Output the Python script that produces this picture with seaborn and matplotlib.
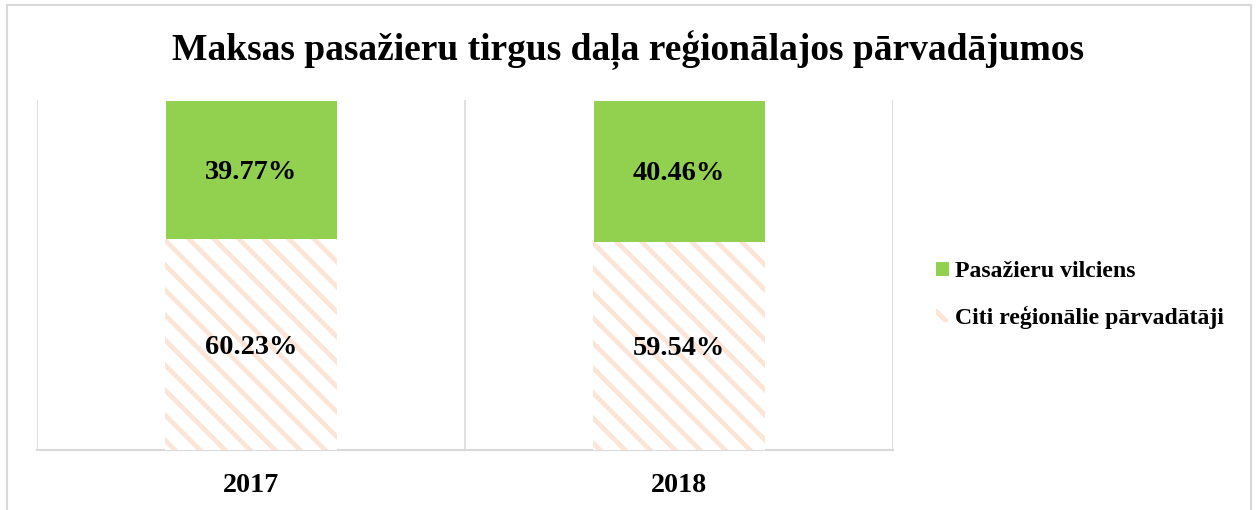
import matplotlib
matplotlib.use("Agg")
import matplotlib.pyplot as plt
import seaborn as sns
import pandas as pd
from matplotlib.patches import Patch
from matplotlib.lines import Line2D

years = ["2017", "2018"]
vilciens = [39.77, 40.46]
citi = [60.23, 59.54]
series_names = ["Pasažieru vilciens", "Citi reģionālie pārvadātāji"]
title = "Maksas pasažieru tirgus daļa reģionālajos pārvadājumos"

green = "#92D050"
peach = "#FCE4D6"
grid_c = "#D9D9D9"

DPI = 75
sns.set_style("white")
plt.rcParams["font.family"] = ["Liberation Serif", "DejaVu Serif"]
plt.rcParams["font.weight"] = "bold"
plt.rcParams["text.color"] = "black"
plt.rcParams["xtick.color"] = "black"
plt.rcParams["xtick.labelcolor"] = "black"
plt.rcParams["hatch.linewidth"] = 4.5

df = pd.DataFrame({"year": years, "vilciens": vilciens, "citi": citi})
df["total"] = df["vilciens"] + df["citi"]

fig = plt.figure(figsize=(1256 / DPI, 510 / DPI), dpi=DPI)
ax = fig.add_axes([37 / 1256, 1 - 450 / 510, (893 - 37) / 1256, 350 / 510])

# top part drawn as full stack, bottom part over it
sns.barplot(data=df, x="year", y="total", color=green, width=0.4,
            saturation=1, ax=ax, zorder=2)
sns.barplot(data=df, x="year", y="citi", color="white", width=0.4,
            saturation=1, ax=ax, zorder=3)
for p in ax.patches[len(years):]:
    p.set_facecolor("white")
    p.set_edgecolor(peach)
    p.set_linewidth(0)
    p.set_hatch("\\")

ax.set_xlim(-0.5, 1.5)
ax.set_ylim(0, 100)
ax.set_yticks([])
ax.set_xlabel("")
ax.set_ylabel("")
for x in [-0.5, 0.5, 1.5]:
    ax.axvline(x, color=grid_c, lw=1.5, zorder=1)
for s in ["top", "right", "left"]:
    ax.spines[s].set_visible(False)
ax.spines["bottom"].set_color(grid_c)
ax.spines["bottom"].set_linewidth(2)
ax.tick_params(axis="x", length=0, pad=22, labelsize=27, labelcolor="black")
for t in ax.get_xticklabels():
    t.set_fontweight("bold")

for i in range(len(years)):
    ax.text(i, citi[i] / 2, f"{citi[i]:.2f}%", ha="center", va="center_baseline",
            fontsize=27.3, fontweight="bold", color="black", zorder=4)
    ax.text(i, citi[i] + vilciens[i] / 2, f"{vilciens[i]:.2f}%", ha="center",
            va="center_baseline", fontsize=27.3, fontweight="bold", color="black", zorder=4)

fig.text(0.5, 1 - 50 / 510, title, ha="center", va="center",
         fontsize=36, fontweight="bold", color="black")

handles = [Patch(facecolor=green, edgecolor=green),
           Patch(facecolor="white", edgecolor=peach, hatch="\\", linewidth=0)]
fig.legend(handles, series_names, loc="center left",
           bbox_to_anchor=(915 / 1256, 1 - 295 / 510), frameon=False,
           prop={"size": 22.8, "weight": "bold"}, handlelength=0.5,
           handleheight=0.5, handletextpad=0.3, labelspacing=1.0,
           labelcolor="black")

# outer chart border
fig.add_artist(Line2D([7 / 1256, 7 / 1256], [0, 1 - 5 / 510], transform=fig.transFigure, color=grid_c, lw=2))
fig.add_artist(Line2D([7 / 1256, 1251 / 1256], [1 - 5 / 510, 1 - 5 / 510], transform=fig.transFigure, color=grid_c, lw=2))
fig.add_artist(Line2D([1251 / 1256, 1251 / 1256], [0, 1 - 5 / 510], transform=fig.transFigure, color=grid_c, lw=2))

fig.savefig("out.png", dpi=DPI, facecolor="white")
